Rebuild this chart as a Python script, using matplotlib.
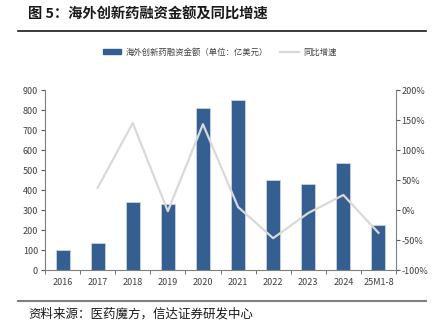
import matplotlib
matplotlib.use("Agg")
import matplotlib.pyplot as plt
from matplotlib.lines import Line2D
from matplotlib.patches import Patch

plt.rcParams['font.family'] = ['Noto Sans CJK SC', 'DejaVu Sans']

# data
years = ["2016", "2017", "2018", "2019", "2020", "2021", "2022", "2023", "2024", "25M1-8"]
amount = [100, 137, 338, 332, 808, 850, 450, 428, 535, 225]
growth = [None, 37, 145, -2, 143, 5, -47, -5, 25, -38]

bar_color = "#365f91"
line_color = "#d9d9d9"
txt = "#404040"

fig = plt.figure(figsize=(4.35, 3.28), dpi=100)
ax = fig.add_axes([0.1034, 0.1768, 0.8070, 0.5488])

x = list(range(len(years)))
ax.bar(x, amount, width=0.4, color=bar_color, edgecolor="#c9d3e3", linewidth=0.6, zorder=2)
ax.set_xlim(-0.5, len(years) - 0.5)
ax.set_ylim(0, 900)
ax.set_yticks(range(0, 901, 100))
ax.set_xticks(x)
ax.set_xticklabels(years)
ax.set_xticks([i + 0.5 for i in range(-1, len(years))], minor=True)
ax.tick_params(axis='x', which='major', length=0, labelsize=6.5, colors=txt, pad=6)
ax.tick_params(axis='x', which='minor', length=3, direction='out', color='#595959')
ax.tick_params(axis='y', labelsize=6.5, colors=txt, length=3, color='#595959', pad=2)

ax2 = ax.twinx()
gx = [i for i, g in zip(x, growth) if g is not None]
gy = [g for g in growth if g is not None]
ax2.plot(gx, gy, color=line_color, linewidth=1.6, zorder=3)
ax2.set_ylim(-100, 200)
ax2.set_yticks(range(-100, 201, 50))
ax2.set_yticklabels([f"{v}%" for v in range(-100, 201, 50)])
ax2.tick_params(axis='y', labelsize=6.5, colors=txt, length=3, color='#595959', pad=1)

for a in (ax, ax2):
    a.spines['top'].set_visible(False)
    for s in ('left', 'right', 'bottom'):
        a.spines[s].set_color('#7f7f7f')
        a.spines[s].set_linewidth(0.8)
ax.spines['right'].set_visible(False)
ax2.spines['left'].set_visible(False)
ax2.spines['bottom'].set_visible(False)

handles = [Patch(facecolor=bar_color, edgecolor=bar_color),
           Line2D([0], [0], color=line_color, linewidth=1.6)]
labels = ["海外创新药融资金额（单位：亿美元）", "同比增速"]
fig.legend(handles, labels, loc='center', bbox_to_anchor=(0.505, 1 - 52 / 328), ncol=2,
           frameon=False, fontsize=6, handlelength=2.2, handleheight=0.5,
           columnspacing=1.5, handletextpad=0.5, labelcolor=txt)

fig.text(28 / 435, 1 - 15 / 328, "图 5：海外创新药融资金额及同比增速", fontsize=10.3,
         fontweight='bold', color='#1a1a1a', va='center', ha='left')
fig.add_artist(Line2D([18 / 435, 426 / 435], [1 - 31 / 328, 1 - 31 / 328],
                      color='#1a1a1a', linewidth=1.2))
fig.add_artist(Line2D([18 / 435, 426 / 435], [1 - 301 / 328, 1 - 301 / 328],
                      color='#7f7f7f', linewidth=1.5))
fig.text(28 / 435, 1 - 314 / 328, "资料来源：医药魔方，信达证券研发中心", fontsize=9,
         style='italic', color='#1a1a1a', va='center', ha='left')

fig.savefig("out.png", dpi=100)
